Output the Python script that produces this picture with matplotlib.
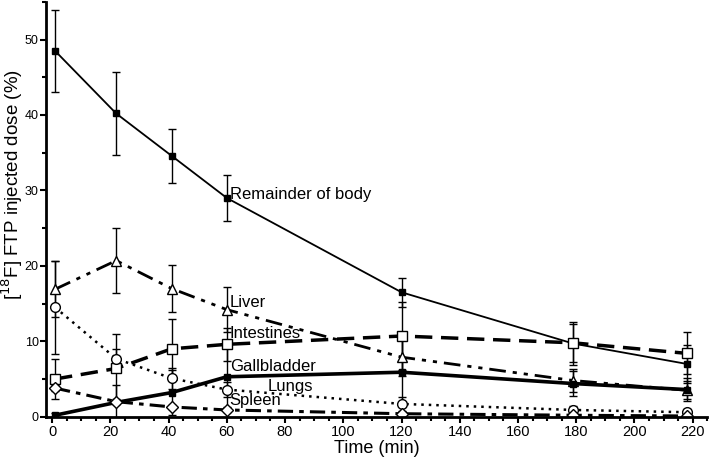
import matplotlib
matplotlib.use('Agg')
import matplotlib.pyplot as plt
from matplotlib.ticker import MultipleLocator

plt.rcParams['font.family'] = ['Liberation Sans', 'DejaVu Sans']

# sampling times (min)
times = [1, 22, 41, 60, 120, 179, 218]

remainder = [48.5, 40.2, 34.6, 29.0, 16.5, 9.7, 7.0]
remainder_err = [5.4, 5.5, 3.6, 3.0, 1.9, 2.8, 2.5]
liver = [16.9, 20.7, 17.0, 14.2, 7.9, 4.8, 3.5]
liver_err = [3.7, 4.3, 3.1, 3.0, 2.5, 1.5, 1.2]
intestines = [5.0, 6.4, 9.0, 9.6, 10.7, 9.8, 8.4]
intestines_err = [2.6, 4.6, 4.0, 2.2, 4.5, 2.5, 2.8]
lungs = [14.5, 7.7, 5.1, 3.6, 1.7, 0.9, 0.6]
lungs_err = [6.2, 1.3, 1.4, 1.0, 0.9, 0.5, 0.4]
gallbladder = [0.2, 1.9, 3.2, 5.3, 5.9, 4.4, 3.6]
gallbladder_err = [0.3, 2.3, 3.0, 4.0, 4.5, 1.7, 1.5]
spleen = [3.8, 2.0, 1.3, 0.9, 0.4, 0.2, 0.1]
spleen_err = [0.4, 0.3, 0.3, 0.3, 0.2, 0.2, 0.1]

fig = plt.figure(figsize=(7.09, 4.61), dpi=100)
ax = fig.add_axes([0.0645, 0.096, 0.933, 0.9])

eb = dict(ecolor='black', elinewidth=1, capsize=3, capthick=1)

ax.errorbar(times, remainder, yerr=remainder_err, color='black', lw=1.3,
            marker='s', ms=4.5, mfc='black', **eb)
ax.errorbar(times, liver, yerr=liver_err, color='black', lw=2,
            ls=(0, (6, 2.5, 1.5, 2.5, 1.5, 2.5)), marker='^', ms=7, mfc='white', mew=1, **eb)
ax.errorbar(times, intestines, yerr=intestines_err, color='black', lw=2.5,
            ls=(0, (5, 2.5)), marker='s', ms=7, mfc='white', mew=1, **eb)
ax.errorbar(times, lungs, yerr=lungs_err, color='black', lw=1.8,
            ls=(0, (1, 2)), marker='o', ms=7, mfc='white', mew=1, **eb)
ax.errorbar(times, gallbladder, yerr=gallbladder_err, color='black', lw=2.6,
            marker='s', ms=4, mfc='black', **eb)
ax.errorbar(times, spleen, yerr=spleen_err, color='black', lw=2.2,
            ls=(0, (5, 2, 1.5, 2)), marker='D', ms=6, mfc='white', mew=1, **eb)

fs = 12
ax.text(61, 29.5, 'Remainder of body', fontsize=fs, va='center')
ax.text(61, 15.2, 'Liver', fontsize=fs, va='center')
ax.text(61, 11.0, 'Intestines', fontsize=fs, va='center')
ax.text(61, 6.6, 'Gallbladder', fontsize=fs, va='center')
ax.text(74, 4.0, 'Lungs', fontsize=fs, va='center')
ax.text(61, 2.1, 'Spleen', fontsize=fs, va='center')

ax.set_xlim(-2.2, 225)
ax.set_ylim(0, 55)
ax.xaxis.set_major_locator(MultipleLocator(20))
ax.xaxis.set_minor_locator(MultipleLocator(5))
ax.yaxis.set_major_locator(MultipleLocator(10))
ax.yaxis.set_minor_locator(MultipleLocator(5))
ax.tick_params(which='major', length=4, width=1.5)
ax.tick_params(which='minor', length=3, width=1.5)
ax.tick_params(axis='x', labelsize=10.5, pad=2)
ax.tick_params(axis='y', labelsize=9, pad=1)
ax.spines['top'].set_visible(False)
ax.spines['right'].set_visible(False)
ax.spines['left'].set_linewidth(2)
ax.spines['bottom'].set_linewidth(2)

ax.set_xlabel('Time (min)', fontsize=13, labelpad=1)
ax.set_ylabel('[$^{18}$F] FTP injected dose (%)', fontsize=13.5)
ax.yaxis.set_label_coords(-0.032, 0.56)

fig.savefig('out.png', dpi=100)
